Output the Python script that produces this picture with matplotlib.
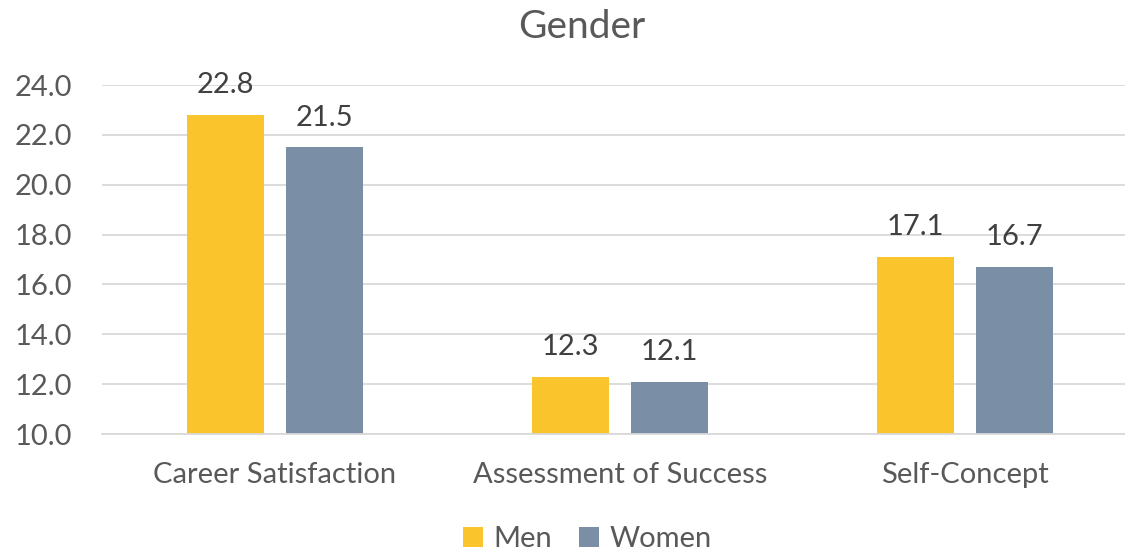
import matplotlib
matplotlib.use("Agg")
import matplotlib.pyplot as plt
import numpy as np

categories = ["Career Satisfaction", "Assessment of Success", "Self-Concept"]
men = [22.8, 12.3, 17.1]
women = [21.5, 12.1, 16.7]
yticks = [10, 12, 14, 16, 18, 20, 22, 24]

plt.rcParams['font.family'] = ['Lato', 'DejaVu Sans']
txt = '#595959'

fig = plt.figure(figsize=(11.25, 5.51), dpi=100)
ax = fig.add_axes([0.0911, 0.2123, 0.92, 0.6334])

x = np.arange(len(categories))
w = 0.223
off = 0.143
b1 = ax.bar(x - off, [m - 10 for m in men], w, bottom=10, color='#F9C42C', label='Men', zorder=3)
b2 = ax.bar(x + off, [v - 10 for v in women], w, bottom=10, color='#7A8FA6', label='Women', zorder=3)

for xs, vals in ((x - off, men), (x + off, women)):
    for xi, v in zip(xs, vals):
        ax.annotate(f"{v:.1f}", (xi, v), xytext=(0, 12), textcoords='offset points',
                    ha='center', va='bottom', fontsize=21, color='#404040')

ax.set_xlim(-0.5, 2.5)
ax.set_ylim(10, 24)
ax.set_yticks(yticks)
ax.set_yticklabels([f"{t:.1f}" for t in yticks])
ax.set_xticks(x)
ax.set_xticklabels(categories)
ax.tick_params(axis='both', length=0, labelsize=21, colors=txt)
ax.tick_params(axis='y', pad=22)
ax.tick_params(axis='x', pad=20)
ax.grid(axis='y', color='#D9D9D9', linewidth=1.3, zorder=0)
for s in ['top', 'right', 'left']:
    ax.spines[s].set_visible(False)
ax.spines['bottom'].set_color('#D9D9D9')
ax.spines['bottom'].set_linewidth(1.3)
ax.spines['bottom'].set_zorder(4)

fig.suptitle("Gender", x=0.517, y=0.983, fontsize=28, color=txt)

fig.legend(handles=[b1, b2], loc='lower center', bbox_to_anchor=(0.522, -0.05), ncol=2,
           frameon=False, fontsize=21, labelcolor=txt, handlelength=0.7, handleheight=0.7,
           handletextpad=0.35, columnspacing=0.9)

fig.savefig("out.png", dpi=100)
